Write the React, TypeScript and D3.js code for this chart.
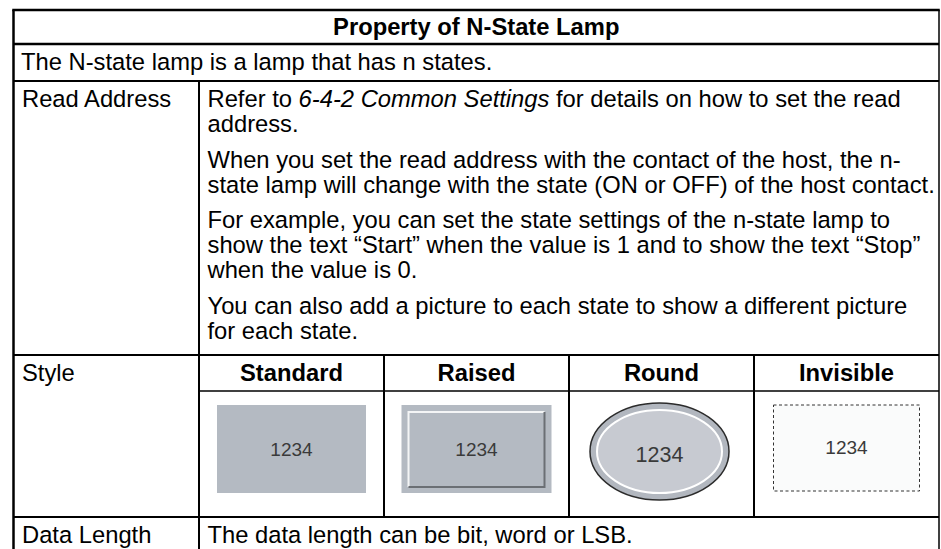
import React, { useRef, useEffect } from 'react'
import * as d3 from 'd3'

// table content
const title = 'Property of N-State Lamp'
const summary = 'The N-state lamp is a lamp that has n states.'
const rowLabels = ['Read Address', 'Style', 'Data Length']
// each paragraph is a list of lines, each line a list of [text, italic]
const readAddressParas: [string, boolean][][][] = [
  [
    [['Refer to ', false], ['6-4-2 Common Settings', true], [' for details on how to set the read', false]],
    [['address.', false]],
  ],
  [
    [['When you set the read address with the contact of the host, the n-', false]],
    [['state lamp will change with the state (ON or OFF) of the host contact.', false]],
  ],
  [
    [['For example, you can set the state settings of the n-state lamp to', false]],
    [['show the text \u201CStart\u201D when the value is 1 and to show the text \u201CStop\u201D', false]],
    [['when the value is 0.', false]],
  ],
  [
    [['You can also add a picture to each state to show a different picture', false]],
    [['for each state.', false]],
  ],
]
const styleNames = ['Standard', 'Raised', 'Round', 'Invisible']
const sampleValue = '1234'
const dataLengthText = 'The data length can be bit, word or LSB.'

const W = 941
const H = 549
const FONT = '"Liberation Sans", Arial, Helvetica, sans-serif'
const FS = 23.75

export default function App() {
  const svgRef = useRef<SVGSVGElement>(null)

  useEffect(() => {
    const svg = d3.select(svgRef.current)
    svg.selectAll('*').remove()

    const left = 13.5, right = 939, split = 199
    const rows = { top: 10, head: 44, desc: 81, read: 355, styleHead: 391, style: 517 }

    const g = svg.append('g').attr('font-family', FONT).attr('font-size', FS).attr('fill', '#000')

    // header
    g.append('text').attr('x', (left + right) / 2).attr('y', 35)
      .attr('text-anchor', 'middle').attr('font-weight', 'bold').text(title)
    g.append('text').attr('x', 21).attr('y', 70).text(summary)

    // read address
    g.append('text').attr('x', 22).attr('y', 107).text(rowLabels[0])
    const lineH = 25, paraGap = 10.5
    let y = 107
    readAddressParas.forEach((para, pi) => {
      if (pi > 0) y += paraGap
      para.forEach(line => {
        const t = g.append('text').attr('x', 207.5).attr('y', y)
        line.forEach(([s, it]) => {
          t.append('tspan').attr('font-style', it ? 'italic' : 'normal').text(s)
        })
        y += lineH
      })
    })

    // style row
    g.append('text').attr('x', 22).attr('y', 381).text(rowLabels[1])
    const band = d3.scaleBand().domain(styleNames).range([split, right])
    styleNames.forEach(n => {
      g.append('text').attr('x', band(n)! + band.bandwidth() / 2).attr('y', 381)
        .attr('text-anchor', 'middle').attr('font-weight', 'bold').text(n)
    })

    const lampTop = 405, lampH = 88, lampW = 150
    const lamps = svg.append('g')
    const numText = (cx: number, cy: number, size: number) =>
      lamps.append('text').attr('x', cx).attr('y', cy).attr('text-anchor', 'middle')
        .attr('font-family', FONT).attr('font-size', size)
        .attr('fill', '#3a3a3a').text(sampleValue)

    // Standard
    let cx = band('Standard')! + band.bandwidth() / 2
    lamps.append('rect').attr('x', cx - lampW / 2 + 0.5).attr('y', lampTop).attr('width', lampW - 1).attr('height', lampH)
      .attr('fill', '#b4bac2')
    numText(cx, 456, 19)

    // Raised
    cx = band('Raised')! + band.bandwidth() / 2
    const rx0 = cx - lampW / 2, rx1 = cx + lampW / 2
    lamps.append('rect').attr('x', rx0).attr('y', lampTop).attr('width', lampW).attr('height', lampH).attr('fill', '#b4bac2')
    lamps.append('path').attr('d', `M${rx0 + 7},${lampTop + 82} V${lampTop + 7} H${rx1 - 7}`)
      .attr('fill', 'none').attr('stroke', '#f4f5f6').attr('stroke-width', 2)
    lamps.append('path').attr('d', `M${rx0 + 7},${lampTop + 82} H${rx1 - 7} V${lampTop + 7}`)
      .attr('fill', 'none').attr('stroke', '#6b6f74').attr('stroke-width', 2)
    numText(cx, 456, 19)

    // Round
    cx = band('Round')! + band.bandwidth() / 2 - 2
    lamps.append('ellipse').attr('cx', cx).attr('cy', 451.5).attr('rx', 69.5).attr('ry', 48.5)
      .attr('fill', '#b2b7bf').attr('stroke', '#2b2b2b').attr('stroke-width', 1.5)
    lamps.append('ellipse').attr('cx', cx).attr('cy', 451.5).attr('rx', 62.5).attr('ry', 41.5)
      .attr('fill', '#c7cad1').attr('stroke', '#ffffff').attr('stroke-width', 2)
    numText(cx, 462, 21.5)

    // Invisible
    cx = band('Invisible')! + band.bandwidth() / 2
    lamps.append('rect').attr('x', cx - 73).attr('y', lampTop).attr('width', 146).attr('height', 86)
      .attr('fill', '#fafbfb').attr('stroke', '#333').attr('stroke-width', 1).attr('stroke-dasharray', '3,2.5')
    numText(cx, 454, 19)

    // data length
    g.append('text').attr('x', 22).attr('y', 543).text(rowLabels[2])
    g.append('text').attr('x', 207.5).attr('y', 543).text(dataLengthText)

    // grid lines
    const lines = svg.append('g').attr('stroke', '#000').attr('fill', 'none')
    const hl = (y: number, x0: number, x1: number, w: number) =>
      lines.append('line').attr('x1', x0).attr('x2', x1).attr('y1', y).attr('y2', y).attr('stroke-width', w)
    const vl = (x: number, y0: number, y1: number, w: number) =>
      lines.append('line').attr('x1', x).attr('x2', x).attr('y1', y0).attr('y2', y1).attr('stroke-width', w)

    hl(rows.top, left - 1.25, right + 0.75, 2.5)
    hl(rows.head, left, right, 2.5)
    hl(rows.desc, left, right, 2)
    hl(rows.read, left, right, 2.2)
    hl(rows.styleHead, split, right, 1.5)
    hl(rows.style, left, right, 1.8)
    vl(left, rows.top, H, 2.5)
    vl(right, rows.top, rows.style, 1.5)
    vl(right, rows.style, H, 1.5)
    vl(split, rows.desc, H, 2)
    styleNames.slice(1).forEach(n => vl(band(n)!, rows.read, rows.style, 2))
  }, [])

  return (
    <div style={{ position: 'absolute', left: 0, top: 0, background: '#fff' }}>
      <svg ref={svgRef} width={W} height={H} style={{ display: 'block' }} />
    </div>
  )
}
